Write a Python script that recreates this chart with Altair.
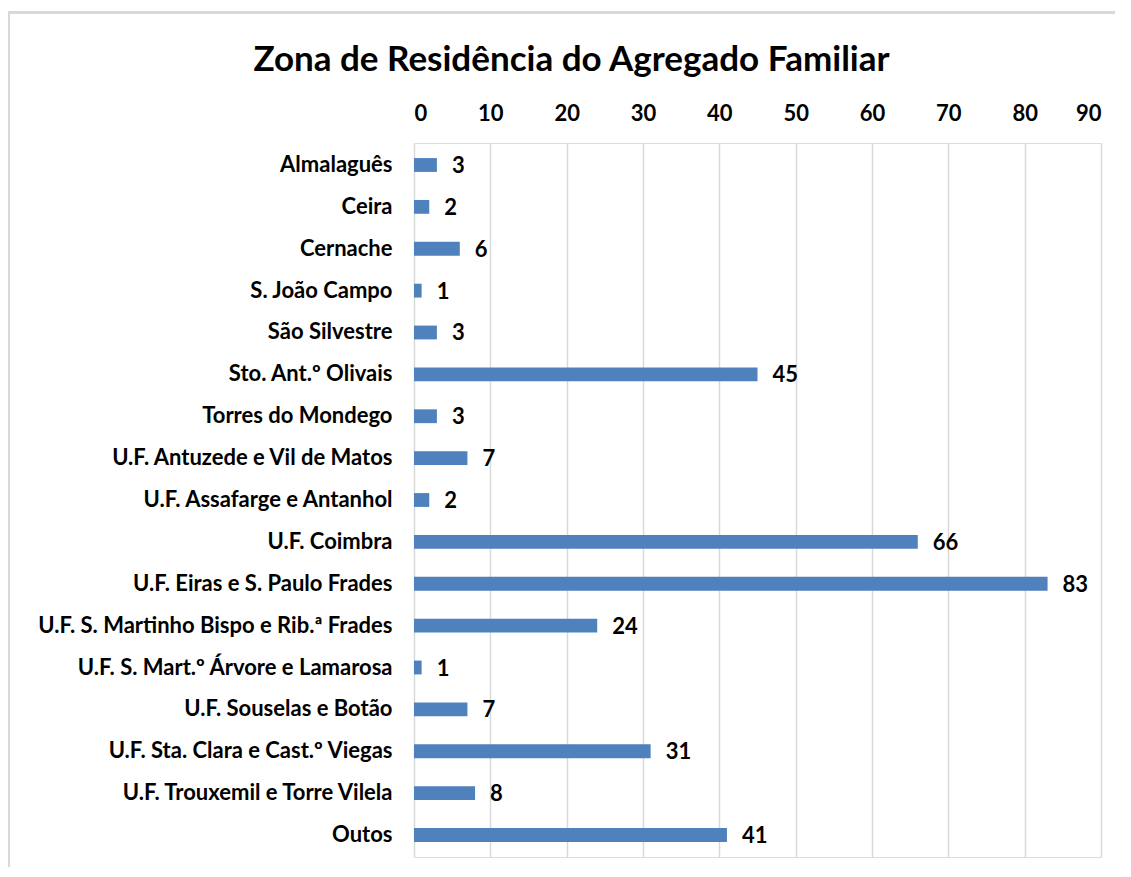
import altair as alt
import pandas as pd

categories = [
    "Almalaguês", "Ceira", "Cernache", "S. João Campo", "São Silvestre",
    "Sto. Ant.º Olivais", "Torres do Mondego", "U.F. Antuzede e Vil de Matos",
    "U.F. Assafarge e Antanhol", "U.F. Coimbra", "U.F. Eiras e S. Paulo Frades",
    "U.F. S. Martinho Bispo e Rib.ª Frades", "U.F. S. Mart.º Árvore e Lamarosa",
    "U.F. Souselas e Botão", "U.F. Sta. Clara e Cast.º Viegas",
    "U.F. Trouxemil e Torre Vilela", "Outos",
]
values = [3, 2, 6, 1, 3, 45, 3, 7, 2, 66, 83, 24, 1, 7, 31, 8, 41]
x_ticks = [0, 10, 20, 30, 40, 50, 60, 70, 80, 90]

df = pd.DataFrame({"zona": categories, "n": values})

FONT = "Lato"
FS = 22

base = alt.Chart(df).encode(
    y=alt.Y("zona:N", sort=categories, title=None,
            scale=alt.Scale(paddingInner=0.67, paddingOuter=0.36),
            axis=alt.Axis(labelFont=FONT, labelFontWeight="bold", labelFontSize=FS,
                          labelColor="#000000", labelPadding=22, labelLimit=0,
                          ticks=False, domain=False)),
)

bars = base.mark_bar(color="#4F81BD").encode(
    x=alt.X("n:Q", title=None,
            scale=alt.Scale(domain=[0, 90], nice=False),
            axis=alt.Axis(orient="top", values=x_ticks, labelFont=FONT, labelFontWeight="bold",
                          labelFontSize=FS, labelColor="#000000", labelPadding=18,
                          ticks=False, domain=False, grid=True, gridColor="#d9d9d9",
                          gridWidth=1.5)),
)

labels = base.mark_text(align="left", baseline="middle", dx=15, dy=1, font=FONT,
                        fontWeight="bold", fontSize=FS, color="#000000").encode(
    x=alt.X("n:Q"),
    text=alt.Text("n:Q"),
)

frame_top = alt.Chart(df).mark_rule(color="#d9d9d9", strokeWidth=2).encode(
    x=alt.value(-405), x2=alt.value(720), y=alt.value(-130.5))
frame_left = alt.Chart(df).mark_rule(color="#d9d9d9", strokeWidth=2).encode(
    x=alt.value(-405), y=alt.value(-131.5), y2=alt.value(740))

chart = (frame_top + frame_left + bars + labels).properties(
    width=687,
    height=714,
    padding={"left": 406, "top": 135, "right": 14, "bottom": 10},
    autosize=alt.AutoSizeParams(type="none"),
    title=alt.TitleParams("Zona de Residência do Agregado Familiar", font=FONT,
                          fontSize=35, fontWeight="bold", color="#000000",
                          anchor="middle", frame="bounds", offset=-67),
).configure_view(stroke=None).configure(background="#ffffff")

chart.save("out.html", embed_options={"renderer": "svg", "actions": False})
